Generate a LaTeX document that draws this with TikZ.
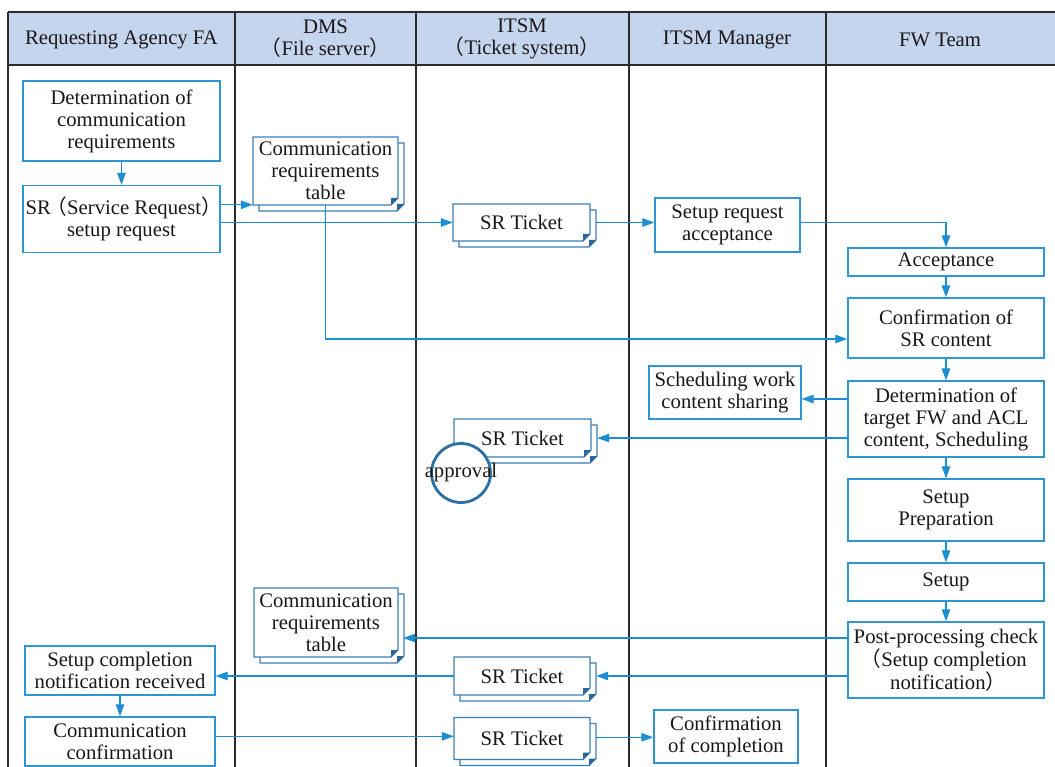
\documentclass[tikz,border=0pt]{standalone}
\usepackage{fontspec}
\setmainfont{Liberation Serif}
\newfontfamily\cjk{Noto Sans CJK SC}
\usetikzlibrary{arrows.meta,calc}
\newcommand\lpar{\kern-0.22em{\cjk （}}
\newcommand\rpar{{\cjk ）}\kern-0.22em}
\definecolor{hdr}{HTML}{C6D5EE}
\definecolor{boxc}{HTML}{2E97D3}
\definecolor{docc}{HTML}{3A7EB5}
\definecolor{docd}{HTML}{2F6699}
\definecolor{arrc}{HTML}{1B8FD2}
\definecolor{txt}{HTML}{1A1718}
\definecolor{lanec}{HTML}{2B2B2B}
\definecolor{circc}{HTML}{2D6FA3}
\tikzset{
  basefont/.style={font=\fontsize{20.7}{22}\selectfont, text=txt},
  proc/.style={basefont, draw=boxc, line width=1.4pt, fill=white, align=center, inner sep=0pt},
  doctext/.style={basefont, align=center, inner sep=0pt},
  docline/.style={draw=docc, line width=1.3pt, fill=white},
  docfold/.style={fill=docd, draw=none},
  arr/.style={draw=arrc, line width=1.2pt, -{Triangle[length=12pt,width=8.5pt]}},
  lane/.style={draw=lanec, line width=1.5pt},
  hdrtext/.style={basefont, align=center}
}
% \docnode{name}{cx}{cy}{w}{h}{text}
\newcommand\docnode[6]{%
  \pgfmathsetmacro\dxa{#2-#4/2}\pgfmathsetmacro\dxb{#2+#4/2}%
  \pgfmathsetmacro\dya{#3-#5/2}\pgfmathsetmacro\dyb{#3+#5/2}%
  \pgfmathsetmacro\exa{\dxa+6}\pgfmathsetmacro\exb{\dxb+6}%
  \pgfmathsetmacro\eya{\dya+6}\pgfmathsetmacro\eyb{\dyb+6}%
  \path[docline] (\exa,\eya) -- (\exb,\eya) -- (\exb,\eyb-7) -- (\exb-7,\eyb) -- (\exa,\eyb) -- cycle;
  \path[docfold] (\exb,\eyb-7) -- (\exb-7,\eyb) -- (\exb-7,\eyb-7) -- cycle;
  \path[docline] (\dxa,\dya) -- (\dxb,\dya) -- (\dxb,\dyb-7) -- (\dxb-7,\dyb) -- (\dxa,\dyb) -- cycle;
  \path[docfold] (\dxb,\dyb-7) -- (\dxb-7,\dyb) -- (\dxb-7,\dyb-7) -- cycle;
  \node[doctext, minimum width=#4pt, minimum height=#5pt] (#1) at (#2,#3) {#6};
}
\begin{document}
\begin{tikzpicture}[x=1pt,y=-1pt]
\useasboundingbox (0,0) rectangle (1055,767);
% header and lanes
\fill[hdr] (8,12) rectangle (1055,65);
\draw[lane] (8,12) -- (1055,12);
\draw[lane] (8,65) -- (1055,65);
\foreach \lx in {8,235,416,629,826} \draw[lane] (\lx,12) -- (\lx,767);
\node[hdrtext] (h1) at (121.5,40) {Requesting Agency FA};
\node[hdrtext] (h2) at (325.5,39) {DMS\\\lpar File server\rpar};
\node[hdrtext] (h3) at (522,39) {ITSM\\\lpar Ticket system\rpar};
\node[hdrtext] (h4) at (727,40) {ITSM Manager};
\node[hdrtext] (h5) at (940,40) {FW Team};

% process boxes
\node[proc, minimum width=197pt, minimum height=80pt] (detreq) at (121.5,121) {Determination of\\communication\\requirements};
\node[proc, minimum width=197pt, minimum height=67pt] (srreq) at (121.5,219) {SR\lpar Service Request\rpar\\setup request};
\node[proc, minimum width=145pt, minimum height=54pt] (sracc) at (727.5,225) {Setup request\\acceptance};
\node[proc, minimum width=196pt, minimum height=28pt] (acc) at (946,262) {Acceptance};
\node[proc, minimum width=196pt, minimum height=60pt] (confsr) at (946,328) {Confirmation of\\SR content};
\node[proc, minimum width=196pt, minimum height=76pt] (detfw) at (946,419) {Determination of\\target FW and ACL\\content, Scheduling};
\node[proc, minimum width=152pt, minimum height=53pt] (sched) at (725,392.5) {Scheduling work\\content sharing};
\node[proc, minimum width=196pt, minimum height=62pt] (prep) at (946,510) {Setup\\Preparation};
\node[proc, minimum width=196pt, minimum height=38pt] (setup) at (946,582) {Setup};
\node[proc, minimum width=196pt, minimum height=76pt] (post) at (946,660) {Post-processing check\\\lpar Setup completion\\notification\rpar};
\node[proc, minimum width=190pt, minimum height=49pt] (scnr) at (120,670.5) {Setup completion\\notification received};
\node[proc, minimum width=190pt, minimum height=49pt] (commconf) at (120,741.5) {Communication\\confirmation};
\node[proc, minimum width=144pt, minimum height=53pt] (confcomp) at (726,736.5) {Confirmation\\of completion};

% documents
\docnode{ct1}{325.5}{171}{145}{68}{Communication\\requirements\\table}
\docnode{tk1}{521.5}{222.5}{137}{37}{SR Ticket}
\docnode{tk2}{522.5}{438}{137}{38}{SR Ticket}
\docnode{ct2}{326}{622.5}{144}{69}{Communication\\requirements\\table}
\docnode{tk3}{522}{676}{136}{38}{SR Ticket}
\docnode{tk4}{522}{738.5}{136}{42}{SR Ticket}

% approval
\node[circle, draw=circc, line width=2.8pt, fill=white, minimum size=59pt, inner sep=0pt,
      label={[basefont]center:approval}] (appr) at (461,473) {};

% connectors
\draw[arr] (detreq.south) -- (srreq.north);
\draw[arr] ([yshift=-20pt]srreq.north east) -- ([yshift=-20pt]srreq.north east -| ct1.west);
\draw[arr] (srreq.east |- tk1.west) -- (tk1.west);
\draw[arr] ([xshift=6pt]tk1.east) -- (sracc.west |- tk1.east);
\draw[arr] (sracc.east |- tk1.east) -| (acc.north);
\draw[arr] (acc.south) -- (confsr.north);
\draw[arr] (ct1.south) |- ([yshift=-11pt]confsr.west);
\draw[arr] (confsr.south) -- (detfw.north);
\draw[arr] ([yshift=20pt]detfw.west) -- ([yshift=20pt]detfw.west -| sched.east);
\draw[arr] (detfw.west |- tk2.east) -- ([xshift=6pt]tk2.east);
\draw[arr] (detfw.south) -- (prep.north);
\draw[arr] (prep.south) -- (setup.north);
\draw[arr] (setup.south) -- (post.north);
\draw[arr] ([yshift=22pt]post.west) -- ([yshift=22pt,xshift=5pt]post.west -| ct2.east);
\draw[arr] (post.west |- tk3.east) -- ([xshift=6pt]tk3.east);
\draw[arr] (tk3.west) -- (scnr.east |- tk3.west);
\draw[arr] (scnr.south) -- (commconf.north);
\draw[arr] ([yshift=-20pt]commconf.north east) -- ([yshift=-20pt]commconf.north east -| tk4.west);
\draw[arr] ([xshift=6pt,yshift=-20pt]tk4.north east) -- ([yshift=-20pt]tk4.north east -| confcomp.west);
\end{tikzpicture}
\end{document}
